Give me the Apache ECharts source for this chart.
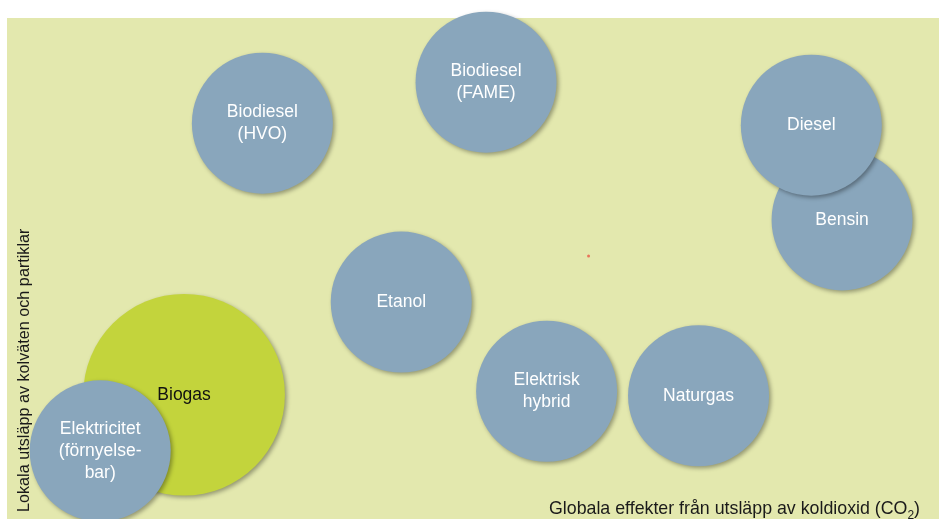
<!DOCTYPE html>
<html>
<head>
<meta charset="utf-8">
<title>Drivmedel - lokala och globala effekter</title>
<script src="https://cdn.jsdelivr.net/npm/echarts@6/dist/echarts.min.js"></script>
<style>
  html, body { margin: 0; padding: 0; background: #ffffff; }
  #chart { width: 939px; height: 519px; }
</style>
</head>
<body>
<div id="chart"></div>
<script>
// fuels (x: global CO2 effect, y: local emissions, 0-100)
const fuels = ['Biodiesel\n(HVO)', 'Biodiesel\n(FAME)', 'Bensin', 'Diesel', 'Etanol',
               'Elektrisk\nhybrid', 'Naturgas', 'Biogas', 'Elektricitet\n(förnyelse-\nbar)'];
const globalEffect = [27.4, 51.4, 89.6, 86.3, 42.3, 57.9, 74.2, 19.0, 10.0];
const localEffect  = [79.0, 87.2, 59.7, 78.6, 43.3, 25.5, 24.6, 24.8, 13.6];
const bubbleSize   = [1.0, 1.0, 1.0, 1.0, 1.0, 1.0, 1.0, 1.43, 1.0];
const highlighted  = 'Biogas';

// tiny red marker near the middle of the plot
const markerPoint = [62.4, 52.5];

const xAxisTitle = '{t|Globala effekter från utsläpp av koldioxid (CO}{s|2}{t|)}';
const yAxisTitle = 'Lokala utsläpp av kolväten och partiklar';

const FONT = '"Liberation Sans", Arial, sans-serif';
const BLUE = '#89a6bc';
const GREEN = '#c3d43c';

let chart = echarts.init(document.getElementById('chart'));

let bubbles = fuels.map((name, i) => {
    let isHi = name === highlighted;
    return {
        name: name,
        value: [globalEffect[i], localEffect[i], bubbleSize[i]],
        itemStyle: { color: isHi ? GREEN : BLUE },
        label: { color: isHi ? '#111111' : '#ffffff' }
    };
});

chart.setOption({
    animation: false,
    grid: {
        left: 7, top: 18, right: 0, bottom: 0,
        show: true,
        backgroundColor: '#e3e8ae',
        borderWidth: 0,
        outerBoundsMode: 'none'
    },
    xAxis: {
        type: 'value',
        min: 0, max: 100,
        axisLine: { show: false },
        axisTick: { show: false },
        axisLabel: { show: false },
        splitLine: { show: false },
        name: xAxisTitle,
        nameLocation: 'end',
        nameGap: -19,
        nameTextStyle: {
            align: 'right',
            verticalAlign: 'bottom',
            padding: [0, 0, 3, 0],
            rich: {
                t: { fontFamily: FONT, fontSize: 17.8, color: '#1a1a1a', lineHeight: 16, verticalAlign: 'top' },
                s: { fontFamily: FONT, fontSize: 12, color: '#1a1a1a', lineHeight: 6, verticalAlign: 'top', padding: [10, 0, 0, 0] }
            }
        }
    },
    yAxis: {
        type: 'value',
        min: 0, max: 100,
        axisLine: { show: false },
        axisTick: { show: false },
        axisLabel: { show: false },
        splitLine: { show: false },
        name: yAxisTitle,
        nameLocation: 'start',
        nameRotate: 90,
        nameGap: -7,
        nameTextStyle: {
            fontFamily: FONT,
            fontSize: 16.2,
            color: '#1a1a1a',
            align: 'left',
            verticalAlign: 'top',
            padding: [10, 0, 0, 0]
        }
    },
    series: [
        {
            type: 'scatter',
            data: bubbles,
            symbol: 'circle',
            symbolSize: (val) => val[2] * 141,
            itemStyle: {
                opacity: 1,
                shadowColor: 'rgba(0, 0, 0, 0.35)',
                shadowBlur: 4,
                shadowOffsetX: 2,
                shadowOffsetY: 2
            },
            label: {
                show: true,
                position: 'inside',
                formatter: '{b}',
                fontFamily: FONT,
                fontSize: 17.5,
                lineHeight: 22
            },
            emphasis: { disabled: true },
            silent: true
        },
        {
            type: 'scatter',
            data: [markerPoint],
            symbolSize: 3,
            itemStyle: { color: '#e8765a', opacity: 1 },
            silent: true
        }
    ]
});
</script>
</body>
</html>
